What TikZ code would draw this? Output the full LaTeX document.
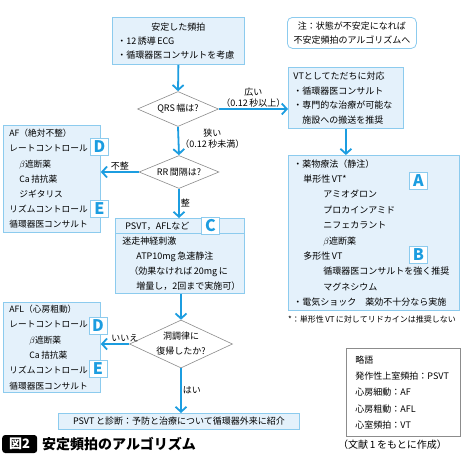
\documentclass[tikz,border=0pt]{standalone}
\usepackage{fontspec}
\setmainfont{Noto Sans CJK JP}
\usetikzlibrary{shapes.geometric,arrows.meta,calc,positioning}

\definecolor{boxfill}{HTML}{E4F1FB}
\definecolor{boxline}{HTML}{8CCBEE}
\definecolor{flow}{HTML}{1C9DE0}
\definecolor{askline}{HTML}{8C8C8C}

\begin{document}
\begin{tikzpicture}[x=1pt,y=-1pt,
  every node/.style={font=\fontsize{9}{14}\selectfont},
  stepbox/.style={draw=boxline, fill=boxfill, line width=0.8pt, anchor=north west,
                  align=left, inner xsep=5pt, inner ysep=0pt},
  ask/.style={diamond, draw=askline, fill=white, line width=0.6pt, inner sep=0pt, align=center},
  go/.style={draw=flow, line width=1.8pt, -{Straight Barb[length=5pt,width=11pt]}},
  tag/.style={draw=boxline, fill=white, line width=0.8pt, minimum width=18pt, minimum height=17pt,
              inner sep=0pt, text=flow, font=\fontsize{16}{16}\selectfont\bfseries},
  lbl/.style={inner sep=1pt, align=center, font=\fontsize{9}{11}\selectfont}]

\useasboundingbox (0,0) rectangle (474,464);

\node[stepbox, text width=122pt, minimum height=47pt] (stable) at (112,17)
  {\makebox[122pt][c]{安定した頻拍}\\・12\,誘導\,ECG\\・循環器医コンサルトを考慮};

\node[stepbox, fill=white, rounded corners=5pt, align=center, text width=119pt, minimum height=31pt] (note) at (287,17)
  {注：状態が不安定になれば\\不安定頻拍のアルゴリズムへ};

\node[ask, aspect=2.3, minimum width=81pt, minimum height=35pt] (qrs) at (178,109) {QRS\,幅は?};

\node[stepbox, text width=105pt, minimum height=61pt, font=\fontsize{9}{14.5}\selectfont] (vt) at (288,67)
  {VTとしてただちに対応\\・循環器医コンサルト\\・専門的な治療が可能な\\\phantom{・}施設への搬送を推奨};

\node[stepbox, text width=161pt, minimum height=155pt, font=\fontsize{9}{15.4}\selectfont] (drug) at (288,155)
  {・薬物療法（静注）\\
   \hspace*{10pt}単形性\,VT*\\
   \hspace*{30pt}アミオダロン\\
   \hspace*{30pt}プロカインアミド\\
   \hspace*{30pt}ニフェカラント\\
   \hspace*{30pt}$\beta$遮断薬\\
   \hspace*{10pt}多形性\,VT\\
   \hspace*{30pt}循環器医コンサルトを強く推奨\\
   \hspace*{30pt}マグネシウム\\
   ・電気ショック　薬効不十分なら実施};

\node[anchor=west, inner sep=0pt, font=\fontsize{8}{8}\selectfont] (vtnote) at (288,319)
  {*：単形性\,VT\,に対してリドカインは推奨しない};

\node[ask, aspect=2.4, minimum width=80pt, minimum height=33pt] (rr) at (179,172) {RR\,間隔は?};

\node[stepbox, inner xsep=6pt, text width=85pt, minimum height=107pt, font=\fontsize{8.7}{15.2}\selectfont] (af) at (3,125)
  {AF（絶対不整）\\レートコントロール\\\hspace*{10pt}$\beta$遮断薬\\\hspace*{10pt}Ca\,拮抗薬\\\hspace*{10pt}ジギタリス\\リズムコントロール\\循環器医コンサルト};

\node[stepbox, inner xsep=4pt, text width=121pt, minimum height=75pt, font=\fontsize{9}{15}\selectfont] (psvt) at (115,218)
  {\hspace*{6pt}PSVT，AFLなど\\\hspace*{3pt}迷走神経刺激\\\hspace*{17pt}ATP10mg\,急速静注\\\hspace*{10pt}（効果なければ\,20mg\,に\\\hspace*{17pt}増量し，2回まで実施可）};
\draw[draw=boxline, line width=0.8pt] ($(psvt.north west)+(0,15)$) -- ($(psvt.north east)+(0,15)$);

\node[ask, aspect=2.2, minimum width=103pt, minimum height=48pt, font=\fontsize{9}{15}\selectfont] (sinus) at (181,344)
  {洞調律に\\復帰したか?};

\node[stepbox, inner xsep=6pt, text width=85pt, minimum height=90pt, font=\fontsize{8.7}{15.4}\selectfont] (afl) at (3,302)
  {AFL（心房粗動）\\レートコントロール\\\hspace*{20pt}$\beta$遮断薬\\\hspace*{20pt}Ca\,拮抗薬\\リズムコントロール\\循環器医コンサルト};

\node[stepbox, align=center, text width=231pt, minimum height=16pt] (final) at (58,413)
  {PSVT\,と診断：予防と治療について循環器外来に紹介};

\node[draw=askline, fill=white, line width=0.8pt, anchor=north west, align=left, inner xsep=9pt, inner ysep=0pt,
      text width=96pt, minimum height=88pt, font=\fontsize{9}{16.2}\selectfont] (abbr) at (346,348)
  {略語\\発作性上室頻拍：PSVT\\心房細動：AF\\心房粗動：AFL\\心室頻拍：VT};

\node[anchor=west, inner sep=0pt, font=\fontsize{10}{10}\selectfont] (src) at (338,445) {（文献\,1\,をもとに作成）};

\node[fill=black, text=white, rounded corners=3pt, anchor=west, minimum width=35pt, minimum height=18pt,
      inner sep=1pt, font=\fontsize{13}{13}\selectfont\bfseries] (fig) at (2,444) {図2};
\node[anchor=west, inner sep=0pt, font=\fontsize{14}{14}\selectfont\bfseries] (title) at (42,444) {安定頻拍のアルゴリズム};

\draw[go] (stable.south) -- (qrs.north);
\draw[go] (qrs.east) -- node[lbl, above] {広い\\（0.12\,秒以上）} (qrs.east -| vt.west);
\draw[go] (vt.south) -- (vt.south |- drug.north);
\draw[go] (qrs.south) -- node[lbl, right, pos=0.4] {狭い\\（0.12\,秒未満）} (rr.north);
\draw[go] (rr.west) -- node[lbl, above] {不整} (rr.west -| af.east);
\draw[go] (rr.south) -- node[lbl, right] {整} (rr.south |- psvt.north);
\draw[go] (sinus.north |- psvt.south) -- (sinus.north);
\draw[go] (sinus.west) -- node[lbl, above, pos=0.15] {いいえ} (sinus.west -| afl.east);
\draw[go] (sinus.south) -- node[lbl, right] {はい} (sinus.south |- final.north);

\node[tag] (tagA) at (418.5,181) {A};
\node[tag] (tagB) at (418.5,255) {B};
\node[tag] (tagC) at (210.5,226) {C};
\node[tag] (tagD) at (99.5,147) {D};
\node[tag] (tagE) at (99.5,208.5) {E};
\node[tag] (tagF) at (98,326) {D};
\node[tag] (tagG) at (98,369) {E};
\end{tikzpicture}
\end{document}
